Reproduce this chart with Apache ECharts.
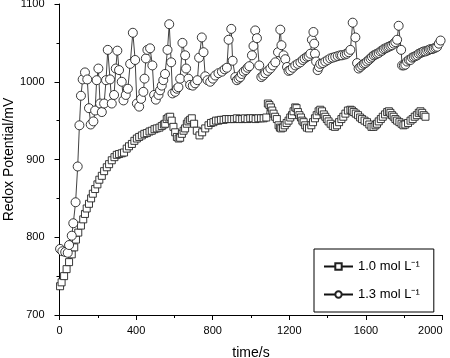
<!DOCTYPE html>
<html>
<head>
<meta charset="utf-8">
<script src="https://cdn.jsdelivr.net/npm/echarts@6/dist/echarts.min.js"></script>
<style>
  html, body { margin: 0; padding: 0; background: #fff; }
  #main { width: 450px; height: 358px; }
</style>
</head>
<body>
<div id="main"></div>
<script>
// 1.0 mol L-1 (squares)
var timeA = [3,11,24,37,50,64,77,86,98,112,124,133,142,154,165,174,186,198,208,221,233,247,259,273,287,299,311,325,337,351,363,378,391,404,416,430,443,456,470,482,496,508,522,534,545,552,560,569,578,586,595,604,613,622,630,639,648,656,665,673,682,691,703,717,731,745,761,778,791,804,817,830,843,857,870,884,898,912,926,940,954,968,982,996,1010,1024,1038,1052,1066,1080,1088,1096,1104,1111,1118,1126,1135,1144,1151,1158,1167,1176,1186,1196,1205,1214,1222,1231,1238,1245,1253,1261,1268,1275,1283,1292,1303,1315,1324,1334,1343,1353,1362,1371,1380,1388,1396,1405,1416,1427,1438,1449,1460,1472,1482,1493,1506,1519,1527,1536,1547,1559,1570,1580,1593,1606,1618,1629,1640,1650,1658,1667,1678,1688,1700,1711,1720,1728,1737,1745,1754,1763,1775,1786,1796,1806,1820,1833,1844,1855,1866,1876,1885,1894,1902,1911];
var potA = [737,742,750,759,768,778,787,797,806,815,823,830,837,843,850,856,862,868,874,879,885,890,894,899,903,906,907,908,909,914,917,920,924,927,929,931,933,934,936,937,939,940,941,943,945,946,952,954,955,950,942,935,929,927,928,933,937,940,946,949,951,953,946,937,931,935,940,944,947,948,950,950,951,951,952,952,952,952,953,952,952,953,952,953,953,952,953,953,953,954,972,970,967,963,959,955,952,944,941,940,941,944,947,950,954,957,962,967,966,961,957,954,950,948,944,941,940,944,948,953,957,962,964,962,958,955,952,949,946,943,942,944,948,952,955,959,963,964,963,961,959,957,954,952,950,948,945,942,942,944,946,949,952,955,958,961,962,960,957,955,952,950,948,946,944,945,947,950,952,955,957,960,962,960,957,955,953];

// 1.3 mol L-1 (circles)
var timeB = [3,15,30,43,50,64,72,84,95,104,112,121,133,145,154,163,177,186,194,203,212,221,233,243,252,264,273,285,294,302,311,325,334,346,357,369,383,395,404,416,426,438,444,451,459,473,485,494,503,517,525,534,542,551,564,573,583,590,604,613,621,630,642,656,661,673,682,696,708,720,729,743,752,761,773,787,801,813,830,848,862,874,883,897,904,918,926,935,944,952,962,973,982,991,1005,1013,1022,1031,1043,1054,1064,1075,1088,1101,1114,1127,1141,1153,1159,1170,1179,1188,1196,1205,1218,1231,1244,1258,1270,1280,1292,1301,1310,1318,1326,1330,1334,1340,1348,1355,1362,1375,1388,1401,1414,1427,1440,1453,1466,1475,1490,1500,1510,1519,1531,1545,1554,1562,1571,1580,1589,1597,1606,1615,1624,1632,1641,1650,1658,1667,1676,1685,1693,1702,1711,1719,1728,1737,1746,1754,1763,1771,1784,1789,1798,1806,1815,1824,1833,1841,1850,1859,1868,1876,1885,1894,1902,1911,1920,1929,1937,1946,1955,1964,1972,1981,1990,2002];
var potB = [785,782,781,780,790,802,818,845,891,944,982,1003,1012,1003,966,945,949,963,1002,1017,972,961,972,1002,1041,1003,972,983,1017,1040,1015,1000,976,983,991,1023,1063,1028,972,968,978,987,1004,1030,1041,1043,1021,983,977,983,989,995,1002,1010,1041,1074,1025,985,987,991,993,1004,1050,1034,1017,1004,996,995,998,1002,1031,1057,1038,1007,1002,1000,1004,1008,1011,1013,1016,1018,1054,1068,1027,1006,1002,1004,1006,1010,1013,1015,1018,1020,1034,1046,1066,1056,1021,1006,1008,1011,1014,1017,1021,1025,1038,1067,1047,1034,1029,1019,1014,1015,1018,1021,1023,1025,1028,1030,1032,1033,1036,1054,1064,1049,1036,1026,1015,1019,1023,1024,1026,1028,1030,1031,1032,1033,1034,1034,1035,1036,1038,1041,1076,1057,1024,1017,1019,1021,1023,1024,1026,1028,1030,1032,1034,1035,1036,1037,1039,1040,1042,1043,1044,1045,1046,1047,1049,1051,1054,1072,1041,1021,1021,1022,1026,1028,1028,1031,1032,1033,1034,1036,1037,1038,1039,1039,1040,1041,1042,1042,1043,1044,1045,1049,1053,1050];

var seriesNames = ['1.0 mol L\u207B\u00B9', '1.3 mol L\u207B\u00B9'];

function pairs(ts, vs) {
  var out = [];
  for (var i = 0; i < ts.length; i++) out.push([ts[i], vs[i]]);
  return out;
}

var chart = echarts.init(document.getElementById('main'));
var font = 'Liberation Sans, Arial, sans-serif';
var option = {
  animation: false,
  backgroundColor: '#fff',
  textStyle: { fontFamily: font, color: '#000' },
  grid: { left: 59.5, right: 7.5, top: 4, bottom: 43, containLabel: false, outerBoundsMode: 'none' },
  legend: {
    orient: 'vertical',
    left: 314, top: 249,
    width: 110,
    padding: [11, 14, 11, 9],
    itemGap: 15,
    itemWidth: 29, itemHeight: 8,
    borderColor: '#000', borderWidth: 1,
    textStyle: { fontFamily: font, fontSize: 13, color: '#000' },
    data: seriesNames
  },
  xAxis: {
    type: 'value', min: 0, max: 2000, interval: 400,
    name: 'time/s', nameLocation: 'middle', nameGap: 31, nameMoveOverlap: false,
    nameTextStyle: { fontFamily: font, fontSize: 14, color: '#000' },
    axisLine: { onZero: false, lineStyle: { color: '#000', width: 1 } },
    axisTick: { inside: false, length: 5, lineStyle: { color: '#000' } },
    minorTick: { show: true, splitNumber: 2, length: 3, lineStyle: { color: '#000' } },
    axisLabel: { fontSize: 11, color: '#000', margin: 10, alignMaxLabel: 'right', formatter: function (v) { return String(v); } },
    splitLine: { show: false }
  },
  yAxis: {
    type: 'value', min: 700, max: 1100, interval: 100,
    name: 'Redox Potential/mV', nameLocation: 'middle', nameGap: 43, nameMoveOverlap: false,
    nameTextStyle: { fontFamily: font, fontSize: 14, color: '#000' },
    axisLine: { show: true, onZero: false, lineStyle: { color: '#000', width: 1 } },
    axisTick: { show: true, inside: false, length: 5, lineStyle: { color: '#000' } },
    minorTick: { show: true, splitNumber: 2, length: 3, lineStyle: { color: '#000' } },
    axisLabel: { fontSize: 11, color: '#000', margin: 15, formatter: function (v) { return String(v); } },
    splitLine: { show: false }
  },
  series: [
    {
      name: seriesNames[0], type: 'line',
      data: pairs(timeA, potA),
      symbol: 'rect', symbolSize: 7, showAllSymbol: true,
      lineStyle: { color: '#111', width: 0.8 },
      itemStyle: { color: '#fff', borderColor: '#222', borderWidth: 0.9 }
    },
    {
      name: seriesNames[1], type: 'line',
      data: pairs(timeB, potB),
      symbol: 'circle', symbolSize: 9, showAllSymbol: true,
      lineStyle: { color: '#111', width: 0.8 },
      itemStyle: { color: '#fff', borderColor: '#222', borderWidth: 0.9 }
    }
  ]
};
chart.setOption(option);
</script>
</body>
</html>
